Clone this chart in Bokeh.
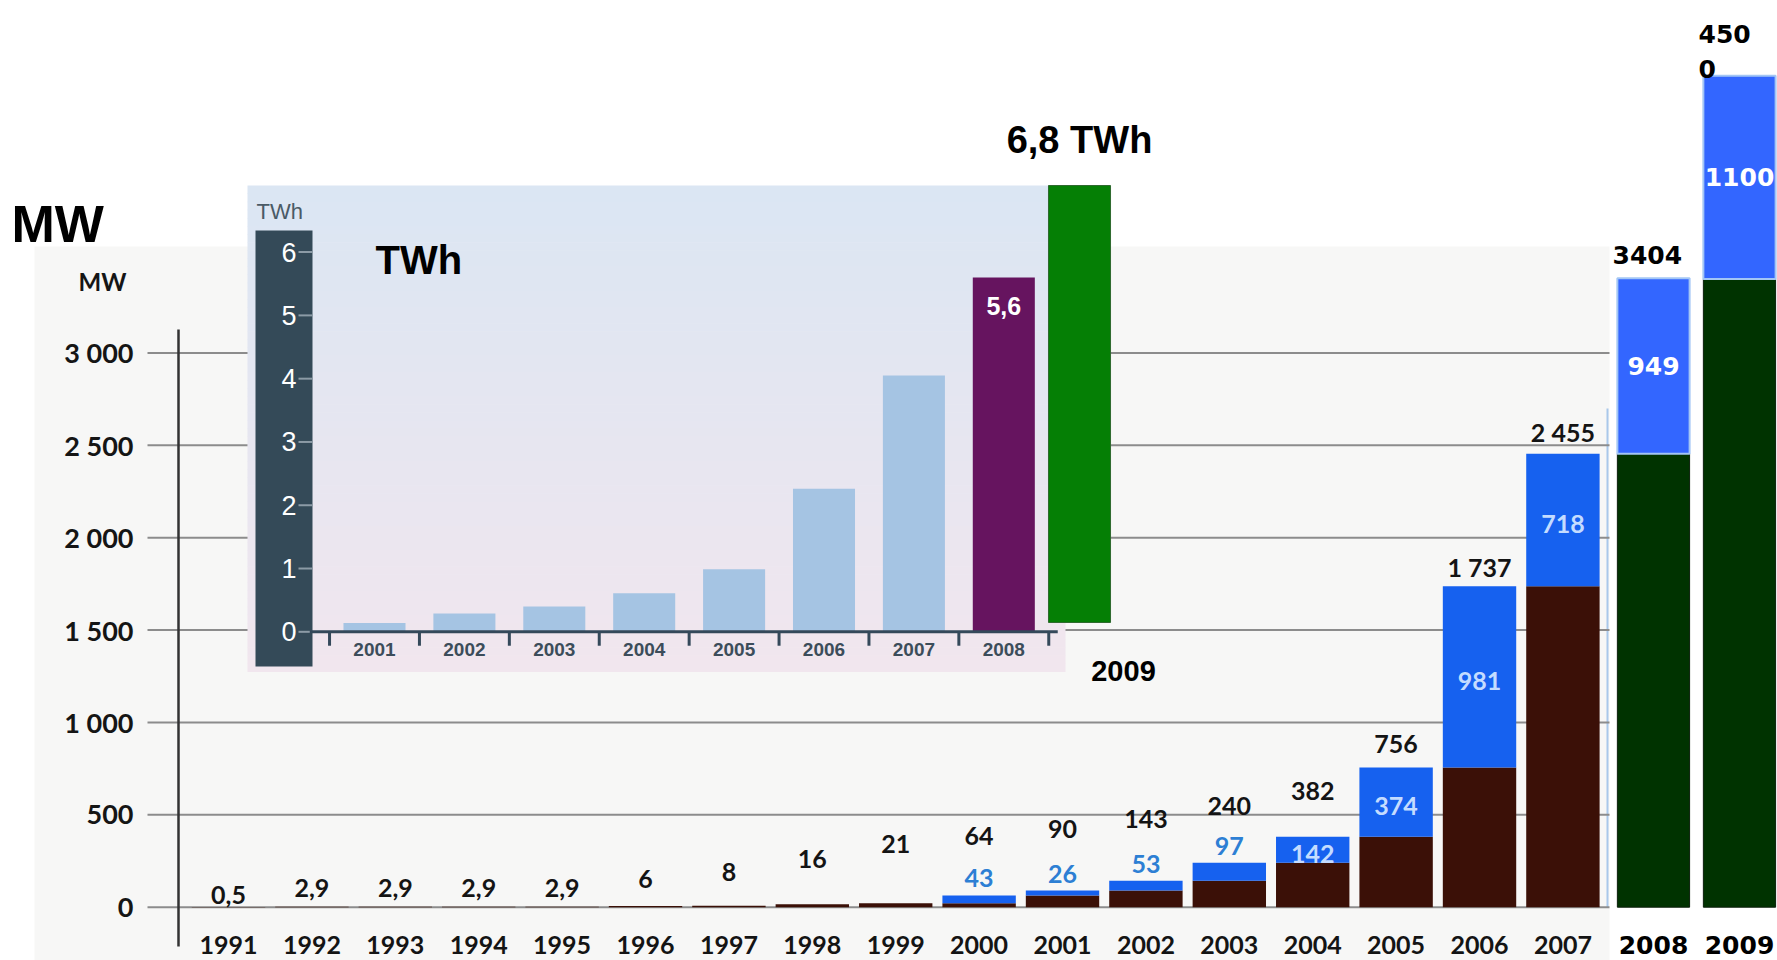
from bokeh.plotting import figure
from bokeh.models import Range1d, ColumnDataSource
from bokeh.core.properties import value
from bokeh.embed import file_html
from bokeh.resources import INLINE

# ---------------------------------------------------------------
# Installed wind capacity (MW) per year, with new installations
# ---------------------------------------------------------------
years = list(range(1991, 2008))
total_mw = [0.5, 2.9, 2.9, 2.9, 2.9, 6, 8, 16, 21, 64, 90, 143, 240, 382, 756, 1737, 2455]
new_mw = [None, None, None, None, None, None, None, None, None,
          43, 26, 53, 97, 142, 374, 981, 718]

# later years, added on the right
added_years = [2008, 2009]
added_total_mw = [3404, 4500]
added_new_mw = [949, 1100]

# MW axis
mw_ticks = [0, 500, 1000, 1500, 2000, 2500, 3000]
mw_tick_labels = ["0", "500", "1 000", "1 500", "2 000", "2 500", "3 000"]

# electricity produced (TWh)
twh_years = [2001, 2002, 2003, 2004, 2005, 2006, 2007, 2008]
twh_values = [0.14, 0.29, 0.40, 0.61, 0.99, 2.26, 4.05, 5.6]
twh_2009_year = 2009
twh_2009_value = 6.8
twh_ticks = [0, 1, 2, 3, 4, 5, 6]
twh_tick_labels = ["0", "1", "2", "3", "4", "5", "6"]

# ---------------------------------------------------------------
# Label layout (pixels above each bar top for the total labels)
# ---------------------------------------------------------------
total_label_lift = [12, 19, 19, 19, 19, 27, 34, 45, 59, 59, 62, 62, 57, 46, 24, 19, 22]
added_label_lift = [14, -8]
added_label_wrap = [None, 3]

W, H = 1777, 960

SCAN_FONT = value("Lato")
ARIAL = value("Liberation Sans")
WIDE = value("DejaVu Sans")


def fmt_mw(v):
    if v != int(v):
        return f"{v}".replace(".", ",")
    return f"{int(v):,}".replace(",", " ")


def fmt_dec(v):
    return f"{v:.1f}".replace(".", ",")


def wrap(s, n):
    if not n:
        return s
    return "\n".join(s[i:i + n] for i in range(0, len(s), n))


def mix(c1, c2, t):
    a = [int(c1[i:i + 2], 16) for i in (1, 3, 5)]
    b = [int(c2[i:i + 2], 16) for i in (1, 3, 5)]
    return "#" + "".join(f"{round(x + (y - x) * t):02x}" for x, y in zip(a, b))


p = figure(width=W, height=H, output_backend="svg", toolbar_location=None,
           x_range=Range1d(1988.266, 2009.573), y_range=Range1d(-288.5, 4908),
           x_axis_type=None, y_axis_type=None, title=None,
           min_border=0, outline_line_color=None,
           background_fill_color="white", border_fill_color="white")

p.extra_x_ranges = {
    "px": Range1d(0, W),
    "inset": Range1d(1996.840, 2016.606),
    "green": Range1d(1996.998, 2016.764),
    "added": Range1d(1988.779, 2009.442),
}
p.extra_y_ranges = {
    "px": Range1d(H, 0),
    "twh": Range1d(-5.194, 9.976),
    "green": Range1d(-5.26, 9.679),
}

# ---------------- main capacity chart ----------------
p.quad(left=[34], right=[1609], top=[246], bottom=[H], fill_color="#f7f7f6",
       line_color=None, x_range_name="px", y_range_name="px")
p.segment(x0=[1607], x1=[1607], y0=[408], y1=[907], line_color="#a9c8ea",
          line_width=2, x_range_name="px", y_range_name="px")

grid = ColumnDataSource(dict(v=mw_ticks, lab=mw_tick_labels,
                             x0=[147] * len(mw_ticks), x1=[1609] * len(mw_ticks),
                             xl=[133] * len(mw_ticks)))
p.segment(x0="x0", x1="x1", y0="v", y1="v", source=grid, line_color="#8c8c8c",
          line_width=2, x_range_name="px")
p.text(x="xl", y="v", text="lab", source=grid, x_range_name="px",
       text_font=SCAN_FONT, text_font_style="bold", text_font_size="27px",
       text_color="#151515", text_align="right", text_baseline="middle")
p.text(x=[102], y=[281], text=["MW"], x_range_name="px", y_range_name="px",
       text_font=SCAN_FONT, text_font_style="bold", text_font_size="24px",
       text_color="#151515", text_align="center", text_baseline="middle")
p.segment(x0=[178], x1=[178], y0=[329], y1=[946], line_color="#333333",
          line_width=2.5, x_range_name="px", y_range_name="px")

base_mw = [t - (n or 0) for t, n in zip(total_mw, new_mw)]
bars = ColumnDataSource(dict(
    year=years, total=total_mw, base=base_mw,
    lab=[fmt_mw(t) for t in total_mw],
    lift=[-l for l in total_label_lift],
    ylab=[944] * len(years), ylab_txt=[str(y) for y in years],
))
p.vbar(x="year", top="base", bottom=0, width=0.88, source=bars,
       fill_color="#3b1007", line_color=None)
p.vbar(x="year", top="total", bottom="base", width=0.88, source=bars,
       fill_color="#1661ef", line_color=None)
p.text(x="year", y="total", text="lab", y_offset="lift", source=bars,
       text_font=SCAN_FONT, text_font_style="bold", text_font_size="25px",
       text_color="#141414", text_align="center", text_baseline="middle")
p.text(x="year", y="ylab", text="ylab_txt", source=bars, y_range_name="px",
       text_font=SCAN_FONT, text_font_style="bold", text_font_size="25px",
       text_color="#141414", text_align="center", text_baseline="middle")

# new-installation labels: inside the segment when it is tall enough
out_src = dict(year=[], y=[], lab=[])
in_src = dict(year=[], y=[], lab=[])
for y, t, b, n in zip(years, total_mw, base_mw, new_mw):
    if n is None:
        continue
    if n >= 120:
        in_src["year"].append(y)
        in_src["y"].append((t + b) / 2)
        in_src["lab"].append(fmt_mw(n))
    else:
        out_src["year"].append(y)
        out_src["y"].append(t)
        out_src["lab"].append(fmt_mw(n))
p.text(x="year", y="y", text="lab", source=ColumnDataSource(out_src), y_offset=-17,
       text_font=SCAN_FONT, text_font_style="bold", text_font_size="25px",
       text_color="#2d7fd4", text_align="center", text_baseline="middle")
p.text(x="year", y="y", text="lab", source=ColumnDataSource(in_src), y_offset=4,
       text_font=SCAN_FONT, text_font_style="bold", text_font_size="25px",
       text_color="#c4dcff", text_align="center", text_baseline="middle")

# ---------------- 2008 / 2009 capacity ----------------
added_base = [t - n for t, n in zip(added_total_mw, added_new_mw)]
added = ColumnDataSource(dict(
    year=added_years, total=added_total_mw, base=added_base,
    mid=[(t + b) / 2 for t, b in zip(added_total_mw, added_base)],
    new_lab=[str(n) for n in added_new_mw],
    tot_lab=[wrap(str(t), w) for t, w in zip(added_total_mw, added_label_wrap)],
    lift=[-l for l in added_label_lift],
    ylab=[944] * len(added_years), ylab_txt=[str(y) for y in added_years],
))
p.vbar(x="year", top="base", bottom=0, width=0.84, source=added,
       x_range_name="added", fill_color="#003300", line_color="#0b1f0b", line_width=1)
p.vbar(x="year", top="total", bottom="base", width=0.84, source=added,
       x_range_name="added", fill_color="#3366ff", line_color="#a3c6f5", line_width=2)
p.text(x="year", y="mid", text="new_lab", source=added, x_range_name="added",
       text_font=WIDE, text_font_style="bold", text_font_size="25px",
       text_color="white", text_align="center", text_baseline="middle")
p.text(x="year", y="total", text="tot_lab", source=added, x_range_name="added",
       x_offset=-41, y_offset="lift", text_line_height=1.2,
       text_font=WIDE, text_font_style="bold", text_font_size="25px",
       text_color="black", text_align="left", text_baseline="bottom")
p.text(x="year", y="ylab", text="ylab_txt", source=added, x_range_name="added",
       y_range_name="px", text_font=WIDE, text_font_style="bold",
       text_font_size="25px", text_color="black", text_align="center",
       text_baseline="middle")

p.text(x=[11], y=[223], text=["MW"], x_range_name="px", y_range_name="px",
       text_font=ARIAL, text_font_style="bold", text_font_size="52px",
       text_color="black", text_align="left", text_baseline="middle")

# ---------------- production inset (TWh) ----------------
n_strips = 60
top_px, bot_px = 185, 671
sh = (bot_px - top_px) / n_strips
p.quad(left=[247] * n_strips, right=[1065] * n_strips,
       top=[top_px + i * sh for i in range(n_strips)],
       bottom=[top_px + (i + 1) * sh + 0.5 for i in range(n_strips)],
       fill_color=[mix("#dbe6f3", "#f1e6ee", i / (n_strips - 1)) for i in range(n_strips)],
       line_color=None, x_range_name="px", y_range_name="px")
p.quad(left=[255], right=[312], top=[230], bottom=[666], fill_color="#344a58",
       line_color=None, x_range_name="px", y_range_name="px")

tt = ColumnDataSource(dict(v=twh_ticks, lab=twh_tick_labels,
                           x0=[298] * len(twh_ticks), x1=[312] * len(twh_ticks),
                           xl=[296] * len(twh_ticks)))
p.segment(x0="x0", x1="x1", y0="v", y1="v", source=tt, x_range_name="px",
          y_range_name="twh", line_color="#8c9ba6", line_width=2)
p.text(x="xl", y="v", text="lab", source=tt, x_range_name="px", y_range_name="twh",
       text_font=ARIAL, text_font_size="27px", text_color="white",
       text_align="right", text_baseline="middle")
p.text(x=[256], y=[211], text=["TWh"], x_range_name="px", y_range_name="px",
       text_font=ARIAL, text_font_size="22px", text_color="#4a5a66",
       text_align="left", text_baseline="middle")
p.text(x=[375], y=[259], text=["TWh"], x_range_name="px", y_range_name="px",
       text_font=ARIAL, text_font_style="bold", text_font_size="40px",
       text_color="black", text_align="left", text_baseline="middle")

twh_src = ColumnDataSource(dict(
    year=twh_years, v=twh_values,
    color=["#a5c4e3"] * (len(twh_years) - 1) + ["#66145f"],
    lab=[str(y) for y in twh_years], zero=[0] * len(twh_years),
))
p.vbar(x="year", top="v", bottom=0, width=0.69, source=twh_src,
       x_range_name="inset", y_range_name="twh", fill_color="color", line_color=None)
p.segment(x0=[twh_years[0] - 0.72], x1=[twh_years[-1] + 0.6], y0=[0], y1=[0],
          x_range_name="inset", y_range_name="twh", line_color="#34495a", line_width=3)
edges = [y - 0.5 for y in twh_years] + [twh_years[-1] + 0.5]
p.segment(x0=edges, x1=edges, y0=[0] * len(edges), y1=[-0.22] * len(edges),
          x_range_name="inset", y_range_name="twh", line_color="#34495a", line_width=3)
p.text(x="year", y="zero", text="lab", source=twh_src, y_offset=18,
       x_range_name="inset", y_range_name="twh",
       text_font=ARIAL, text_font_style="bold", text_font_size="19px",
       text_color="#3c4d5a", text_align="center", text_baseline="middle")
p.text(x=[twh_years[-1]], y=[twh_values[-1]], text=[fmt_dec(twh_values[-1])],
       y_offset=29, x_range_name="inset", y_range_name="twh",
       text_font=ARIAL, text_font_style="bold", text_font_size="25px",
       text_color="white", text_align="center", text_baseline="middle")

# 2009 production
p.vbar(x=[twh_2009_year], top=[twh_2009_value], bottom=0, width=0.69,
       x_range_name="green", y_range_name="green", fill_color="#057f05",
       line_color="#2f6a2f", line_width=1)
p.text(x=[twh_2009_year], y=[twh_2009_value], text=[fmt_dec(twh_2009_value) + " TWh"],
       y_offset=-25, x_range_name="green", y_range_name="green",
       text_font=ARIAL, text_font_style="bold", text_font_size="38px",
       text_color="black", text_align="center", text_baseline="bottom")
p.text(x=[twh_2009_year], y=[0], text=[str(twh_2009_year)], x_offset=44, y_offset=49,
       x_range_name="green", y_range_name="green",
       text_font=ARIAL, text_font_style="bold", text_font_size="29px",
       text_color="black", text_align="center", text_baseline="middle")

open("out.html", "w").write(file_html(p, INLINE))
